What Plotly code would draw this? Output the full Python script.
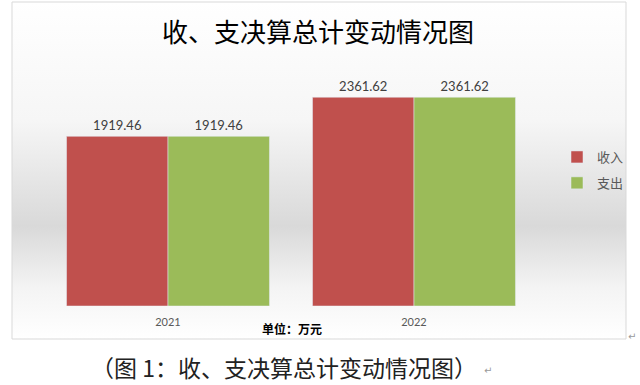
import base64
import plotly.graph_objects as go

# ---- data ----
years = ["2021", "2022"]
income = [1919.46, 2361.62]
expense = [1919.46, 2361.62]
series_names = ["收入", "支出"]
title_text = "收、支决算总计变动情况图"
unit_text = "单位：万元"
caption_text = "（图 1：收、支决算总计变动情况图）"

# ---- geometry helpers (pixel -> paper, paper = whole figure) ----
W, H = 640, 385


def px(x):
    return x / W


def py(y):
    return 1 - y / H


CJK = "Noto Sans CJK SC"
LAT = "Lato, 'Noto Sans', sans-serif"

fig = go.Figure()
fig.add_trace(go.Bar(
    x=years, y=income, name=series_names[0], marker_color="#c0504d",
    text=[f"{v:.2f}" for v in income], textposition="outside",
    textfont=dict(family=LAT, size=13, color="#404040"), cliponaxis=False,
    legendgroup="a", hoverinfo="skip",
))
fig.add_trace(go.Bar(
    x=years, y=expense, name=series_names[1], marker_color="#9bbb59",
    text=[f"{v:.2f}" for v in expense], textposition="outside",
    textfont=dict(family=LAT, size=13, color="#404040"), cliponaxis=False,
    legendgroup="b", hoverinfo="skip",
))

svg = (
    '<svg xmlns="http://www.w3.org/2000/svg" width="100" height="100" preserveAspectRatio="none">'
    '<defs><linearGradient id="g" x1="0" y1="0" x2="0" y2="1">'
    '<stop offset="0" stop-color="#ffffff"/>'
    '<stop offset="0.35" stop-color="#f6f6f6"/>'
    '<stop offset="0.665" stop-color="#d9d9d9"/>'
    '<stop offset="0.85" stop-color="#f4f4f4"/>'
    '<stop offset="1" stop-color="#ffffff"/>'
    '</linearGradient></defs>'
    '<rect x="0" y="0" width="100" height="100" fill="url(#g)"/></svg>'
)
src = "data:image/svg+xml;base64," + base64.b64encode(svg.encode()).decode()

x0, x1, y0, y1 = 12, 626, 2, 339
fig.add_layout_image(dict(
    source=src, xref="paper", yref="paper", x=px(x0), y=py(y0),
    sizex=px(x1) - px(x0), sizey=py(y0) - py(y1), sizing="stretch",
    xanchor="left", yanchor="top", layer="below",
))
fig.add_shape(type="rect", xref="paper", yref="paper",
              x0=px(x0), x1=px(x1), y0=py(y1), y1=py(y0),
              line=dict(color="#d9d9d9", width=1), fillcolor="rgba(0,0,0,0)",
              layer="above")

annots = [
    dict(text=title_text, x=px(318), y=py(30), font=dict(family=CJK, size=26, color="#000000")),
    dict(text="<b>" + unit_text + "</b>", x=px(292), y=py(328),
         font=dict(family=CJK, size=12, color="#000000")),
    dict(text=caption_text, x=px(284), y=py(367), font=dict(family=CJK, size=23, color="#222222")),
    dict(text="↵", x=px(488), y=py(370), font=dict(family="DejaVu Sans", size=10, color="#9a9a9a")),
    dict(text="↵", x=px(632), y=py(336), font=dict(family="DejaVu Sans", size=10, color="#9a9a9a")),
]
for a in annots:
    fig.add_annotation(xref="paper", yref="paper", showarrow=False,
                       xanchor="center", yanchor="middle", **a)

fig.update_layout(
    width=W, height=H,
    margin=dict(l=0, r=0, t=0, b=0, pad=0),
    paper_bgcolor="#ffffff", plot_bgcolor="rgba(0,0,0,0)",
    barmode="group", bargap=0.175, bargroupgap=0,
    showlegend=True, hovermode=False,
    legend=dict(x=px(557), y=py(170), xanchor="left", yanchor="middle",
                bgcolor="rgba(0,0,0,0)", font=dict(family=CJK, size=13, color="#595959"),
                traceorder="grouped", tracegroupgap=6, itemwidth=30),
    xaxis=dict(domain=[px(45), px(537)], showgrid=False, showline=False, zeroline=False,
               ticks="", tickfont=dict(family=LAT, size=11, color="#595959"),
               ticklabelstandoff=8),
    yaxis=dict(domain=[py(306), py(85)], range=[0, 2500], visible=False),
)
fig.write_html("out.html", config={"displayModeBar": False},
               post_script="document.body.style.margin='0';")
